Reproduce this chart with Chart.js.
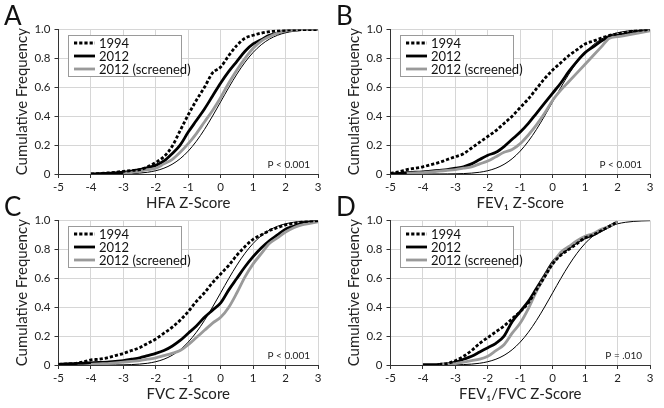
<!DOCTYPE html>
<html><head><meta charset="utf-8">
<script src="https://cdn.jsdelivr.net/npm/chart.js@4.4.1/dist/chart.umd.min.js"></script>
<style>
html,body{margin:0;padding:0;background:#fff;}
body{width:664px;height:408px;position:relative;overflow:hidden;}
canvas{position:absolute;}
</style></head><body>
<canvas id="cA" width="332" height="217" style="left:0;top:0"></canvas>
<canvas id="cB" width="332" height="217" style="left:332px;top:0"></canvas>
<canvas id="cC" width="332" height="217" style="left:0;top:191px"></canvas>
<canvas id="cD" width="332" height="217" style="left:332px;top:191px"></canvas>
<script>
const FONT = "Lato, 'Open Sans', 'DejaVu Sans', sans-serif";

// z-score grid (x positions of the read values)
const zGrid = [-5,-4.75,-4.5,-4.25,-4,-3.75,-3.5,-3.25,-3,-2.75,-2.5,-2.25,-2,-1.75,-1.5,-1.25,-1,-0.75,-0.5,-0.25,0,0.25,0.5,0.75,1,1.25,1.5,1.75,2,2.25,2.5,2.75,3];
const xTicks = [-5,-4,-3,-2,-1,0,1,2,3];
const yTicks = [0,0.2,0.4,0.6,0.8,1.0];
const panelLetters = ['A','B','C','D'];
const xTitles = ['HFA Z-Score','FEV\u2081 Z-Score','FVC Z-Score','FEV\u2081/FVC Z-Score'];
const pTexts = ['P < 0.001','P < 0.001','P < 0.001','P = .010'];
const seriesNames = ['1994','2012','2012 (screened)'];

// thin reference curve
const refCurve = [null,null,null,null,0.0000,0.0001,0.0002,0.0006,0.0013,0.003,0.0062,0.0122,0.0228,0.0401,0.0668,0.1056,0.1587,0.2266,0.3085,0.4013,0.5,0.5987,0.6915,0.7734,0.8413,0.8944,0.9332,0.9599,0.9772,0.9878,0.9938,0.997,0.9987];

// A: HFA
const hfa1994 = [null,null,null,null,0.0,0.003,0.007,0.012,0.018,0.024,0.03,0.05,0.08,0.12,0.19,0.3,0.41,0.51,0.6,0.7,0.74,0.82,0.89,0.94,0.96,0.975,0.985,0.99,0.995,0.998,1.0,1.0,1.0];
const hfa2012 = [null,null,null,null,0.0,0.003,0.005,0.008,0.012,0.02,0.03,0.045,0.06,0.09,0.14,0.2,0.29,0.37,0.45,0.54,0.63,0.71,0.78,0.85,0.9,0.93,0.96,0.975,0.99,0.995,1.0,1.0,1.0];
const hfa2012s = [null,null,null,null,null,null,null,null,0.005,0.01,0.02,0.03,0.04,0.07,0.1,0.15,0.21,0.28,0.36,0.44,0.53,0.63,0.72,0.8,0.87,0.92,0.95,0.975,0.99,0.995,1.0,1.0,1.0];

// B: FEV1
const fev1994 = [0.005,0.015,0.03,0.04,0.05,0.065,0.08,0.1,0.12,0.14,0.18,0.22,0.26,0.3,0.35,0.4,0.46,0.52,0.59,0.66,0.72,0.77,0.82,0.86,0.9,0.92,0.94,0.96,0.97,0.98,0.99,0.995,1.0];
const fev2012 = [0.0,0.005,0.01,0.012,0.015,0.02,0.025,0.03,0.04,0.05,0.07,0.1,0.13,0.15,0.19,0.24,0.29,0.35,0.42,0.49,0.56,0.63,0.71,0.78,0.84,0.88,0.92,0.95,0.96,0.97,0.98,0.99,1.0];
const fev2012s = [null,null,0.005,0.008,0.01,0.015,0.02,0.025,0.03,0.04,0.05,0.07,0.09,0.12,0.15,0.17,0.21,0.27,0.34,0.42,0.51,0.58,0.64,0.7,0.76,0.82,0.88,0.94,0.95,0.96,0.97,0.98,0.99];

// C: FVC
const fvc1994 = [0.005,0.007,0.01,0.02,0.035,0.04,0.05,0.065,0.08,0.1,0.12,0.15,0.18,0.22,0.26,0.31,0.37,0.44,0.5,0.57,0.63,0.69,0.76,0.82,0.87,0.9,0.93,0.95,0.97,0.98,0.99,0.995,1.0];
const fvc2012 = [0.005,0.007,0.01,0.012,0.015,0.018,0.02,0.025,0.03,0.04,0.05,0.065,0.08,0.1,0.13,0.17,0.22,0.27,0.33,0.38,0.43,0.52,0.6,0.68,0.75,0.81,0.86,0.9,0.94,0.96,0.98,0.99,1.0];
const fvc2012s = [null,null,null,null,0.005,0.008,0.01,0.015,0.02,0.025,0.03,0.04,0.05,0.065,0.08,0.1,0.14,0.19,0.24,0.29,0.33,0.4,0.5,0.61,0.7,0.77,0.84,0.88,0.92,0.95,0.97,0.98,0.99];

// D: FEV1/FVC
const ratio1994 = [null,null,null,null,null,null,0.005,0.01,0.03,0.06,0.1,0.15,0.19,0.23,0.27,0.32,0.37,0.43,0.52,0.61,0.7,0.76,0.8,0.84,0.88,0.9,0.93,0.96,0.99,null,null,null,null];
const ratio2012 = [null,null,null,null,0.002,0.003,0.005,0.01,0.02,0.04,0.06,0.09,0.12,0.15,0.2,0.3,0.37,0.44,0.53,0.62,0.71,0.77,0.81,0.85,0.88,0.9,0.93,0.96,0.99,null,null,null,null];
const ratio2012s = [null,null,null,null,null,null,0.005,0.008,0.01,0.02,0.03,0.04,0.06,0.1,0.14,0.22,0.29,0.39,0.51,0.61,0.7,0.78,0.82,0.86,0.89,0.91,0.94,0.96,0.99,null,null,null,null];

function pts(vals){
  const out=[];
  vals.forEach((v,i)=>{ if(v!==null) out.push({x:zGrid[i], y:v}); });
  return out;
}

const decor = {
  id:'decor',
  afterDraw(chart, args, opts){
    const ctx = chart.ctx, a = chart.chartArea;
    ctx.save();
    ctx.fillStyle='#111'; ctx.textAlign='left'; ctx.textBaseline='alphabetic';
    ctx.font = '26px ' + FONT;
    ctx.fillText(opts.letter, 4, 25);
    ctx.font = '10px ' + FONT; ctx.textAlign='right'; ctx.fillStyle='#222';
    ctx.fillText(opts.pText, a.right - 8, a.bottom - 6.5);
    const bx = Math.round(a.left + 9), by = Math.round(a.top + 5.5), bw = 113, bh = 41;
    ctx.fillStyle='#fff'; ctx.fillRect(bx,by,bw,bh);
    ctx.strokeStyle='#9a9a9a'; ctx.lineWidth=1; ctx.strokeRect(bx+0.5,by+0.5,bw,bh);
    opts.order.forEach((di,k)=>{
      const ds = chart.data.datasets[di];
      const y = by + 8 + k*13;
      ctx.beginPath(); ctx.setLineDash(ds.borderDash||[]); ctx.lineWidth = ds.borderWidth; ctx.strokeStyle = ds.borderColor;
      ctx.lineCap='butt';
      ctx.moveTo(bx+6,y); ctx.lineTo(bx+27,y); ctx.stroke();
      ctx.setLineDash([]);
      ctx.fillStyle='#111'; ctx.font='13px ' + FONT; ctx.textAlign='left'; ctx.textBaseline='middle';
      ctx.fillText(ds.label, bx+31, y+0.5);
    });
    ctx.restore();
  }
};

function makeChart(id, idx, s1994, s2012, s2012s){
  new Chart(document.getElementById(id), {
    type:'line',
    data:{datasets:[
      {label:seriesNames[0], data:pts(s1994), borderColor:'#000', borderWidth:2.8, borderDash:[3.2,2]},
      {label:seriesNames[2], data:pts(s2012s), borderColor:'#9a9a9a', borderWidth:2.8},
      {label:seriesNames[1], data:pts(s2012), borderColor:'#000', borderWidth:2.8},
      {label:'Reference', data:pts(refCurve), borderColor:'#000', borderWidth:1}
    ]},
    options:{
      responsive:false, animation:false, devicePixelRatio:1,
      layout:{padding:{left:0,right:14,top:29.5,bottom:0}},
      elements:{point:{radius:0}, line:{cubicInterpolationMode:'monotone', borderCapStyle:'butt', borderJoinStyle:'round', fill:false}},
      plugins:{legend:{display:false}, tooltip:{enabled:false}, decor:{letter:panelLetters[idx], pText:pTexts[idx], order:[0,2,1]}},
      scales:{
        x:{type:'linear', min:-5, max:3,
           afterBuildTicks:s=>{ s.ticks = xTicks.map(v=>({value:v})); },
           afterFit:s=>{ s.height = 43; },
           grid:{color:'#d6d6d6', tickColor:'#333', tickLength:4, lineWidth:1},
           border:{color:'#333', width:1},
           ticks:{padding:2, color:'#222', font:{family:FONT,size:11.5}, maxRotation:0, autoSkip:false, callback:v=>String(v)},
           title:{display:true, text:xTitles[idx], color:'#222', font:{family:FONT,size:15}, padding:{top:0,bottom:5}}},
        y:{type:'linear', min:0, max:1,
           afterBuildTicks:s=>{ s.ticks = yTicks.map(v=>({value:v})); },
           afterFit:s=>{ s.width = 58.5; },
           grid:{color:'#d6d6d6', tickColor:'#333', tickLength:4, lineWidth:1},
           border:{color:'#333', width:1},
           ticks:{padding:4, color:'#222', font:{family:FONT,size:11.5}, callback:v=> v===0 ? '0' : Number(v).toFixed(1)},
           title:{display:true, text:'Cumulative Frequency', color:'#222', font:{family:FONT,size:15}, padding:{top:13,bottom:0}}}
      }
    },
    plugins:[decor]
  });
}

makeChart('cA', 0, hfa1994, hfa2012, hfa2012s);
makeChart('cB', 1, fev1994, fev2012, fev2012s);
makeChart('cC', 2, fvc1994, fvc2012, fvc2012s);
makeChart('cD', 3, ratio1994, ratio2012, ratio2012s);
</script>
</body></html>
